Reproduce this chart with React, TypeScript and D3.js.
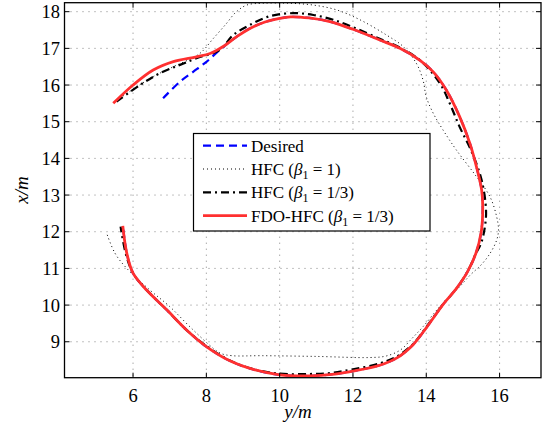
import React from 'react';
import * as d3 from 'd3';

const xTicks = [6, 8, 10, 12, 14, 16];
const yTicks = [9, 10, 11, 12, 13, 14, 15, 16, 17, 18];

const desiredX = [6.82, 7.28, 7.64, 8.01, 8.37, 8.83, 9.2, 9.6, 10.0, 10.3, 10.8, 11.37, 12.0, 12.73, 13.28, 13.82, 14.19, 14.55, 14.91, 15.19, 15.37, 15.51, 15.54, 15.5, 15.35, 15.12, 14.82, 14.46, 14.0, 13.64, 13.2, 12.73, 12.0, 11.5, 10.8, 10.0, 9.3, 8.64, 8.01, 7.46, 6.92, 6.37, 6.0, 5.83, 5.73];
const desiredY = [15.64, 16.09, 16.36, 16.64, 16.96, 17.32, 17.55, 17.72, 17.82, 17.86, 17.83, 17.73, 17.52, 17.23, 17.0, 16.68, 16.36, 15.86, 15.14, 14.41, 13.77, 13.14, 12.68, 12.0, 11.4, 10.9, 10.45, 10.02, 9.38, 8.92, 8.56, 8.36, 8.2, 8.12, 8.07, 8.1, 8.24, 8.48, 8.86, 9.32, 9.87, 10.41, 10.87, 11.41, 12.1];

const hfc1X = [5.64, 6.1, 6.55, 7.1, 7.82, 8.19, 8.55, 8.8, 9.1, 9.55, 10.28, 10.92, 11.55, 12.19, 12.92, 13.37, 13.73, 13.91, 14.0, 14.19, 14.46, 14.82, 15.37, 15.74, 15.92, 15.97, 15.92, 15.74, 15.5, 15.2, 14.91, 14.37, 13.91, 13.6, 13.3, 12.9, 12.46, 11.0, 9.5, 8.7, 8.4, 8.19, 7.55, 7.0, 6.46, 5.83, 5.51, 5.28];
const hfc1Y = [15.64, 15.95, 16.23, 16.5, 16.86, 17.27, 17.68, 17.98, 18.18, 18.23, 18.23, 18.18, 18.05, 17.78, 17.36, 17.05, 16.59, 16.14, 15.68, 15.23, 14.77, 14.23, 13.5, 12.95, 12.41, 12.05, 11.77, 11.41, 11.1, 10.82, 10.5, 9.96, 9.41, 9.08, 8.78, 8.61, 8.57, 8.6, 8.62, 8.62, 8.68, 8.82, 9.41, 9.96, 10.41, 11.0, 11.41, 11.96];

const hfc3X = [5.55, 6.19, 6.73, 7.28, 7.73, 8.37, 8.73, 9.19, 9.74, 10.37, 10.92, 11.46, 12.0, 12.73, 13.28, 13.85, 14.37, 14.64, 14.91, 15.23, 15.51, 15.63, 15.6, 15.5, 15.35, 15.12, 14.82, 14.46, 14.0, 13.64, 13.2, 12.73, 12.0, 11.4, 10.8, 10.0, 9.3, 8.64, 8.01, 7.46, 6.92, 6.37, 6.0, 5.8, 5.66];
const hfc3Y = [15.55, 16.0, 16.32, 16.55, 16.73, 16.96, 17.36, 17.64, 17.88, 17.96, 17.91, 17.78, 17.58, 17.26, 17.02, 16.66, 16.05, 15.5, 14.86, 14.2, 13.41, 12.59, 12.14, 11.7, 11.4, 10.9, 10.45, 10.02, 9.4, 8.94, 8.6, 8.41, 8.25, 8.15, 8.12, 8.13, 8.25, 8.49, 8.88, 9.32, 9.87, 10.41, 10.87, 11.41, 12.14];

const fdoX = [5.46, 6.0, 6.55, 7.1, 7.73, 8.1, 8.46, 8.83, 9.2, 9.6, 10.0, 10.3, 10.8, 11.37, 12.0, 12.73, 13.28, 13.82, 14.19, 14.55, 14.91, 15.19, 15.37, 15.51, 15.54, 15.5, 15.35, 15.12, 14.82, 14.46, 14.0, 13.64, 13.2, 12.73, 12.0, 11.5, 10.8, 10.0, 9.3, 8.64, 8.01, 7.46, 6.92, 6.37, 6.0, 5.83, 5.72];
const fdoY = [15.5, 16.0, 16.41, 16.64, 16.77, 16.86, 17.05, 17.32, 17.55, 17.72, 17.82, 17.86, 17.83, 17.73, 17.52, 17.23, 17.0, 16.68, 16.36, 15.86, 15.14, 14.41, 13.77, 13.14, 12.68, 12.0, 11.4, 10.9, 10.45, 10.02, 9.38, 8.92, 8.56, 8.36, 8.2, 8.12, 8.07, 8.1, 8.24, 8.48, 8.86, 9.32, 9.87, 10.41, 10.87, 11.41, 12.16];

const FONT = "Liberation Serif, Times New Roman, serif";

export default function App() {
  const W = 545, H = 432;
  const L = 64.5, R = 541, T = 2.7, B = 377.7;
  const x = d3.scaleLinear().domain([4.13, 17.13]).range([L, R]);
  const y = d3.scaleLinear().domain([8.02, 18.245]).range([B, T]);
  const line = d3.line<[number, number]>()
    .x(d => x(d[0]))
    .y(d => y(d[1]))
    .curve(d3.curveCatmullRom.alpha(0.5));
  const pts = (xs: number[], ys: number[]) => xs.map((v, i) => [v, ys[i]] as [number, number]);

  const tickLen = 5;
  const legX = 193.5, legY = 133.5, legW = 236.5, legH = 97.5;
  const rows = [
    { base: 151.7, stroke: '#0000ff', dash: '8,5', width: 2.2, label: 'desired' },
    { base: 175, stroke: '#000', dash: '1,3', width: 1, label: 'hfc1' },
    { base: 198.3, stroke: '#000', dash: '8,4,2,4', width: 2.2, label: 'hfc3' },
    { base: 221.7, stroke: '#ff3030', dash: undefined, width: 2.8, label: 'fdo' },
  ];

  const beta = (prefix: string, val: string, base: number) => (
    <text x={251} y={base} fontFamily={FONT} fontSize={17} fill="#000">
      {prefix}
      <tspan fontStyle="italic">β</tspan>
      <tspan dy={4} fontSize={12}>1</tspan>
      <tspan dy={-4}>{' = ' + val + ')'}</tspan>
    </text>
  );

  return (
    <svg width={W} height={H} style={{ position: 'absolute', left: 0, top: 0, background: '#fff' }}>
      <defs>
        <clipPath id="plotClip">
          <rect x={L} y={T} width={R - L} height={B - T} />
        </clipPath>
      </defs>
      <rect x={0} y={0} width={W} height={H} fill="#fff" />
      <g stroke="#666" strokeWidth={0.8} strokeDasharray="1,5">
        {xTicks.map(t => (
          <line key={'gx' + t} x1={x(t)} x2={x(t)} y1={T} y2={B} />
        ))}
        {yTicks.map(t => (
          <line key={'gy' + t} x1={L} x2={R} y1={y(t)} y2={y(t)} />
        ))}
      </g>
      <g clipPath="url(#plotClip)" fill="none">
        <path d={line(pts(desiredX, desiredY)) || ''} stroke="#0000ff" strokeWidth={2.2} strokeDasharray="8,5" />
        <path d={line(pts(hfc1X, hfc1Y)) || ''} stroke="#000" strokeWidth={1} strokeDasharray="1,3" />
        <path d={line(pts(hfc3X, hfc3Y)) || ''} stroke="#000" strokeWidth={2.2} strokeDasharray="8,4,2,4" />
        <path d={line(pts(fdoX, fdoY)) || ''} stroke="#ff3030" strokeWidth={2.8} />
      </g>
      <g stroke="#000" strokeWidth={1}>
        {xTicks.map(t => (
          <g key={'tx' + t}>
            <line x1={x(t)} x2={x(t)} y1={B} y2={B - tickLen} />
            <line x1={x(t)} x2={x(t)} y1={T} y2={T + tickLen} />
          </g>
        ))}
        {yTicks.map(t => (
          <g key={'ty' + t}>
            <line x1={L} x2={L + tickLen} y1={y(t)} y2={y(t)} />
            <line x1={R} x2={R - tickLen} y1={y(t)} y2={y(t)} />
          </g>
        ))}
      </g>
      <rect x={L} y={T} width={R - L} height={B - T} fill="none" stroke="#000" strokeWidth={1.3} />
      <g fontFamily={FONT} fontSize={18.5} fill="#000">
        {xTicks.map(t => (
          <text key={'lx' + t} x={x(t)} y={401.5} textAnchor="middle">{t}</text>
        ))}
        {yTicks.map(t => (
          <text key={'ly' + t} x={60} y={y(t)} dy="0.35em" textAnchor="end">{t}</text>
        ))}
      </g>
      <text x={298} y={418} textAnchor="middle" fontFamily={FONT} fontSize={19} fontStyle="italic">y/m</text>
      <text transform="translate(28,190) rotate(-90)" textAnchor="middle" fontFamily={FONT} fontSize={19} fontStyle="italic">x/m</text>
      <rect x={legX} y={legY} width={legW} height={legH} fill="#fff" stroke="#000" strokeWidth={1.2} />
      {rows.map(r => (
        <line key={r.label} x1={203} x2={247} y1={r.base - 6} y2={r.base - 6}
          stroke={r.stroke} strokeWidth={r.width} strokeDasharray={r.dash} />
      ))}
      <text x={251} y={rows[0].base} fontFamily={FONT} fontSize={17} fill="#000">Desired</text>
      {beta('HFC (', '1', rows[1].base)}
      {beta('HFC (', '1/3', rows[2].base)}
      {beta('FDO-HFC (', '1/3', rows[3].base)}
    </svg>
  );
}
